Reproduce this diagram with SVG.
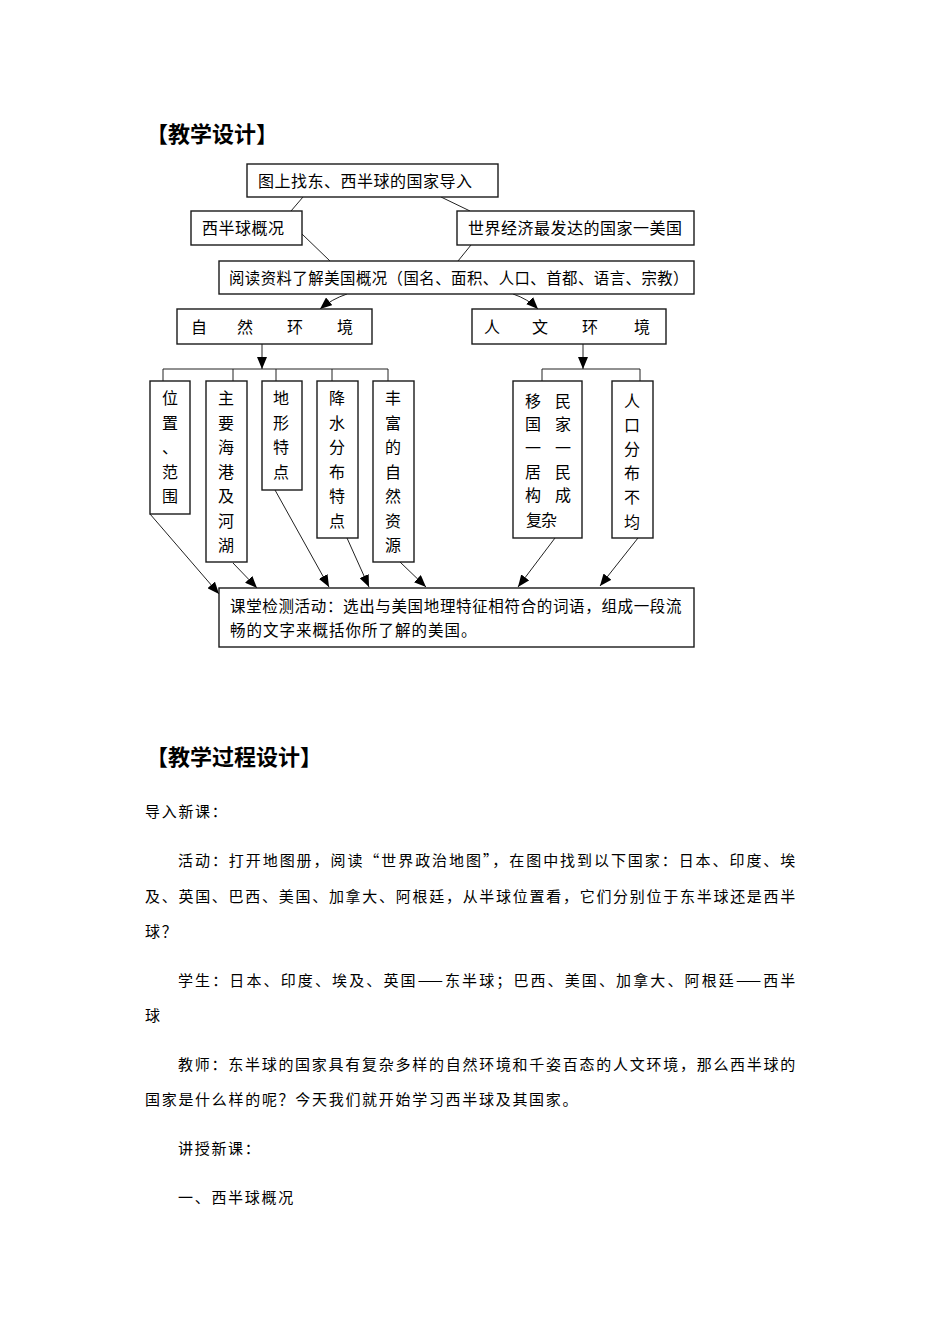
<svg xmlns="http://www.w3.org/2000/svg" width="950" height="1344" viewBox="0 0 950 1344">
<style>
.t{font-family:"Noto Sans CJK SC","Noto Sans",sans-serif;fill:#000}
.h{font-size:22px;font-weight:bold}
.d{font-size:16px;letter-spacing:0.5px}
.v{font-size:16px;text-anchor:middle}
.b{font-size:15px;letter-spacing:1.7px}
.box{fill:#fff;stroke:#1a1a1a;stroke-width:1.4}
.ln{fill:none;stroke:#222;stroke-width:1}
.ar{fill:none;stroke:#222;stroke-width:1;marker-end:url(#ah)}
</style>
<defs>
<marker id="ah" viewBox="0 0 12 10" refX="12" refY="5" markerWidth="12" markerHeight="10" markerUnits="userSpaceOnUse" orient="auto">
<path d="M0,0 L12,5 L0,10 Z" fill="#000"/>
</marker>
</defs>
<rect width="950" height="1344" fill="#fff"/>

<text class="t h" x="146" y="142">【教学设计】</text>

<g id="connectors">
<line class="ln" x1="303" y1="197" x2="291" y2="211"/>
<line class="ln" x1="441" y1="197" x2="470" y2="211"/>
<line class="ln" x1="302" y1="234" x2="330" y2="261"/>
<line class="ln" x1="471" y1="245" x2="458" y2="261"/>
<path class="ar" d="M347,294 Q332,299 320,309"/>
<path class="ar" d="M513,294 Q528,299 538,309"/>
<line class="ar" x1="262" y1="344" x2="262" y2="369"/>
<line class="ar" x1="583" y1="344" x2="583" y2="369"/>
<path class="ln" d="M163,381 V369 H388 V381 M233,369 V381 M276,369 V381 M332,369 V381"/>
<path class="ln" d="M542,381 V369 H640 V381"/>
<line class="ar" x1="150" y1="514" x2="219" y2="594"/>
<line class="ar" x1="233" y1="563" x2="257" y2="588"/>
<line class="ar" x1="275" y1="490" x2="329" y2="587"/>
<line class="ar" x1="347" y1="538" x2="369" y2="587"/>
<line class="ar" x1="400" y1="562" x2="426" y2="587"/>
<line class="ar" x1="555" y1="538" x2="518" y2="587"/>
<line class="ar" x1="638" y1="538" x2="600" y2="586"/>
</g>

<g id="n-start">
<rect class="box" x="247" y="164" width="251" height="33"/>
<text class="t d" x="258" y="187">图上找东、西半球的国家导入</text>
</g>
<g id="n-west">
<rect class="box" x="191" y="211" width="111" height="34"/>
<text class="t d" x="202" y="234">西半球概况</text>
</g>
<g id="n-usa">
<rect class="box" x="457" y="211" width="237" height="34"/>
<text class="t d" x="468" y="234">世界经济最发达的国家一美国</text>
</g>
<g id="n-read">
<rect class="box" x="219" y="261" width="475" height="33"/>
<text class="t d" x="229" y="284" textLength="460" lengthAdjust="spacingAndGlyphs">阅读资料了解美国概况（国名、面积、人口、首都、语言、宗教）</text>
</g>
<g id="n-nature">
<rect class="box" x="177" y="309" width="195" height="35"/>
<text class="t d" x="191 237 287 337" y="333">自然环境</text>
</g>
<g id="n-human">
<rect class="box" x="472" y="309" width="194" height="35"/>
<text class="t d" x="484 532 582 634" y="333">人文环境</text>
</g>

<g id="n-loc">
<rect class="box" x="150" y="381" width="40" height="133"/>
<text class="t v" x="170" y="404"><tspan x="170">位</tspan><tspan x="170" dy="24.5">置</tspan><tspan x="170" dy="24.5">、</tspan><tspan x="170" dy="24.5">范</tspan><tspan x="170" dy="24.5">围</tspan></text>
</g>
<g id="n-port">
<rect class="box" x="206" y="381" width="41" height="181"/>
<text class="t v" x="226" y="404"><tspan x="226">主</tspan><tspan x="226" dy="24.5">要</tspan><tspan x="226" dy="24.5">海</tspan><tspan x="226" dy="24.5">港</tspan><tspan x="226" dy="24.5">及</tspan><tspan x="226" dy="24.5">河</tspan><tspan x="226" dy="24.5">湖</tspan></text>
</g>
<g id="n-terrain">
<rect class="box" x="262" y="381" width="40" height="109"/>
<text class="t v" x="281" y="404"><tspan x="281">地</tspan><tspan x="281" dy="24.5">形</tspan><tspan x="281" dy="24.5">特</tspan><tspan x="281" dy="24.5">点</tspan></text>
</g>
<g id="n-rain">
<rect class="box" x="317" y="381" width="41" height="157"/>
<text class="t v" x="337" y="404"><tspan x="337">降</tspan><tspan x="337" dy="24.5">水</tspan><tspan x="337" dy="24.5">分</tspan><tspan x="337" dy="24.5">布</tspan><tspan x="337" dy="24.5">特</tspan><tspan x="337" dy="24.5">点</tspan></text>
</g>
<g id="n-res">
<rect class="box" x="373" y="381" width="41" height="181"/>
<text class="t v" x="393" y="404"><tspan x="393">丰</tspan><tspan x="393" dy="24.5">富</tspan><tspan x="393" dy="24.5">的</tspan><tspan x="393" dy="24.5">自</tspan><tspan x="393" dy="24.5">然</tspan><tspan x="393" dy="24.5">资</tspan><tspan x="393" dy="24.5">源</tspan></text>
</g>

<g id="n-immig">
<rect class="box" x="513" y="381" width="69" height="157"/>
<text class="t v" x="533" y="407"><tspan x="533 563">移民</tspan><tspan x="533 563" y="430">国家</tspan><tspan x="533 563" y="454">一一</tspan><tspan x="533 563" y="478">居民</tspan><tspan x="533 563" y="501">构成</tspan></text>
<text class="t d" x="526" y="526" style="letter-spacing:-1px">复杂</text>
</g>
<g id="n-pop">
<rect class="box" x="612" y="381" width="41" height="157"/>
<text class="t v" x="632" y="407"><tspan x="632">人</tspan><tspan x="632" dy="23.5">口</tspan><tspan x="632" dy="24.5">分</tspan><tspan x="632" dy="24">布</tspan><tspan x="632" dy="24">不</tspan><tspan x="632" dy="24.5">均</tspan></text>
</g>

<g id="n-check">
<rect class="box" x="219" y="588" width="475" height="59"/>
<text class="t d" x="230" y="612" style="font-size:15.5px" textLength="452" lengthAdjust="spacing">课堂检测活动：选出与美国地理特征相符合的词语，组成一段流</text>
<text class="t d" x="230" y="636" style="font-size:15.5px;letter-spacing:1px">畅的文字来概括你所了解的美国。</text>
</g>

<text class="t h" x="146" y="765">【教学过程设计】</text>

<g id="body">
<text class="t b" x="145" y="817">导入新课：</text>
<text class="t b" x="178" y="866" textLength="619" lengthAdjust="spacing">活动：打开地图册，阅读“世界政治地图”，在图中找到以下国家：日本、印度、埃</text>
<text class="t b" x="145" y="902" textLength="652" lengthAdjust="spacing">及、英国、巴西、美国、加拿大、阿根廷，从半球位置看，它们分别位于东半球还是西半</text>
<text class="t b" x="145" y="937">球？</text>
<text class="t b" x="178" y="986" textLength="619" lengthAdjust="spacing">学生：日本、印度、埃及、英国——东半球；巴西、美国、加拿大、阿根廷——西半</text>
<text class="t b" x="145" y="1021">球</text>
<text class="t b" x="178" y="1070" textLength="619" lengthAdjust="spacing">教师：东半球的国家具有复杂多样的自然环境和千姿百态的人文环境，那么西半球的</text>
<text class="t b" x="145" y="1105">国家是什么样的呢？今天我们就开始学习西半球及其国家。</text>
<text class="t b" x="178" y="1154">讲授新课：</text>
<text class="t b" x="178" y="1203">一、西半球概况</text>
</g>
</svg>
